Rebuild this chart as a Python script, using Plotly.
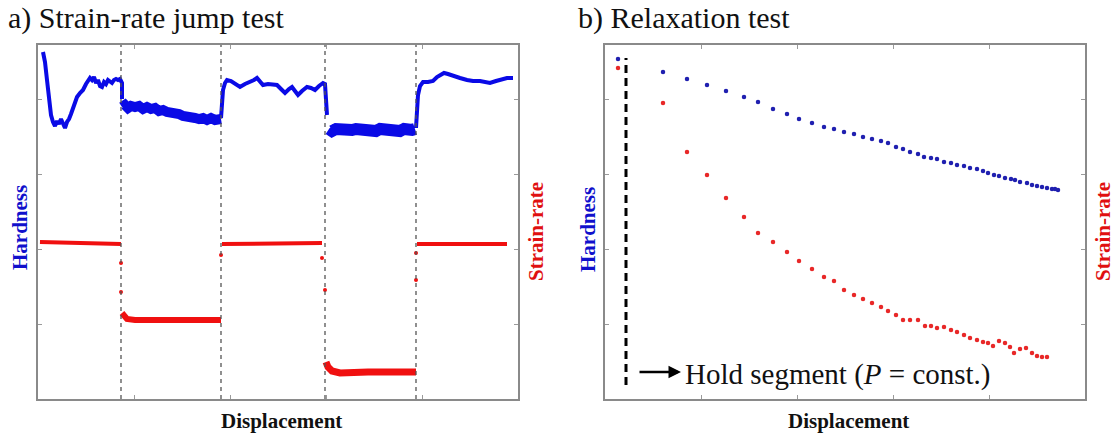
import plotly.graph_objects as go

# ---------------- a) Strain-rate jump test (arbitrary units) ----------------
# positions of the rate jumps along the displacement axis
jump_positions = [83, 183, 287, 378]

# hardness, segment by segment (x: displacement, y: hardness)
hard_seg1_x = [5, 7, 9, 11, 13, 15, 17, 19, 21, 23, 25, 27, 29, 31, 33, 35, 37, 39, 42, 45,
               48, 50, 52, 54, 56, 58, 60, 62, 64, 66, 68, 70, 72, 74, 76, 78, 80, 82, 84, 84]
hard_seg1_y = [347, 337, 319, 299, 284, 277, 273, 278, 275, 280, 275, 271, 277, 280, 285, 291,
               296, 302, 306, 309, 315, 319, 321, 319, 322, 316, 319, 313, 312, 317, 315, 319,
               317, 316, 319, 320, 319, 320, 316, 300]

hard_seg2_x = [84, 87, 90, 93, 97, 101, 105, 109, 113, 117, 121, 125, 129, 133, 137, 141, 145,
               149, 153, 157, 161, 165, 169, 173, 177, 180, 183]
hard_seg2_y = [292, 294, 291, 293, 292, 293, 290, 292, 290, 291, 288, 289, 287, 287, 285, 285,
               283, 283, 281, 281, 280, 281, 279, 281, 279, 281, 280]

hard_seg3_x = [183, 184, 185, 187, 189, 193, 197, 202, 207, 212, 216, 219, 222, 225, 230, 235,
               239, 243, 247, 251, 254, 257, 260, 264, 269, 273, 277, 281, 285, 287, 288, 289]
hard_seg3_y = [281, 299, 309, 316, 319, 318, 315, 312, 315, 317, 319, 321, 317, 314, 315, 314,
               314, 310, 306, 310, 312, 308, 304, 308, 312, 311, 309, 313, 316, 315, 299, 284]

hard_seg4_x = [291, 294, 298, 302, 306, 310, 314, 318, 322, 326, 330, 334, 338, 342, 346, 350,
               354, 358, 362, 366, 370, 374, 377]
hard_seg4_y = [270, 268, 270, 269, 270, 268, 269, 270, 269, 268, 270, 269, 268, 270, 269, 268,
               270, 269, 268, 270, 268, 269, 270]

hard_seg5_x = [378, 379, 380, 382, 385, 390, 395, 399, 403, 406, 410, 415, 422, 429, 435, 442,
               447, 452, 458, 464, 469, 475]
hard_seg5_y = [271, 289, 304, 313, 317, 317, 318, 322, 325, 326, 325, 323, 321, 319, 318, 318,
               317, 316, 318, 320, 321, 321]

# strain-rate plateaus
rate_seg1_x = [2, 40, 83]
rate_seg1_y = [157, 156, 155]
rate_seg2_x = [84, 86, 89, 97, 120, 150, 183]
rate_seg2_y = [86, 83, 80, 79, 79, 79, 79]
rate_seg3_x = [184, 230, 284]
rate_seg3_y = [155, 155, 156]
rate_seg4_x = [288, 290, 294, 302, 330, 360, 378]
rate_seg4_y = [37, 32, 28, 26, 27, 26, 27]
rate_seg5_x = [379, 420, 469]
rate_seg5_y = [155, 155, 155]
# isolated transient points at each jump
rate_trans_x = [83, 83, 183, 284, 287, 378, 378]
rate_trans_y = [136, 107, 144, 141, 109, 146, 119]

# ---------------- b) Relaxation test (arbitrary units) ----------------
hold_start = 21
hold_line_y = [14, 341]

relax_x = [13, 58, 82, 102, 121, 139, 153, 168, 182, 194, 207, 219, 229, 239, 249, 258, 267,
           276, 283, 291, 298, 305, 313, 319, 326, 332, 339, 346, 352, 359, 365, 372, 378,
           383, 389, 394, 400, 406, 410, 415, 422, 427, 432, 437, 442, 447, 450, 453]
relax_hard = [340, 327, 320, 314, 308, 302, 297, 290, 285, 280, 276, 272, 270, 267, 265, 262,
              260, 258, 256, 252, 250, 247, 245, 242, 241, 240, 237, 236, 234, 233, 231, 230,
              228, 226, 224, 223, 221, 220, 219, 217, 216, 214, 213, 212, 211, 210, 210, 209]

relax_rate_x = [13, 58, 82, 102, 121, 139, 153, 168, 182, 194, 207, 219, 229, 239, 249, 258,
                267, 276, 283, 291, 298, 305, 313, 320, 326, 332, 339, 346, 352, 359, 365, 372,
                378, 383, 388, 394, 400, 405, 409, 415, 421, 427, 432, 437, 442]
relax_rate = [331, 296, 247, 224, 201, 182, 166, 157, 147, 138, 130, 122, 118, 109, 104, 100,
              96, 92, 88, 84, 79, 79, 79, 73, 73, 71, 72, 69, 67, 64, 61, 59, 57, 56, 53, 58,
              56, 52, 46, 50, 51, 46, 43, 42, 42]

# ---------------- styling ----------------
BLUE = "#0a0ae6"
BLUE_DOT = "#2020b0"
RED = "#f01010"
RED_DOT = "#e82828"
SERIF = "'Liberation Serif', 'Times New Roman', Times, 'DejaVu Serif', serif"
W, H = 1117, 437

fig = go.Figure()

def line(x, y, color, width, xa, ya):
    fig.add_trace(go.Scatter(x=x, y=y, mode="lines", xaxis=xa, yaxis=ya,
                             line=dict(color=color, width=width), hoverinfo="skip"))

# panel a: hardness
line(hard_seg1_x, hard_seg1_y, BLUE, 4, "x", "y")
line(hard_seg2_x, hard_seg2_y, BLUE, 10, "x", "y")
line(hard_seg3_x, hard_seg3_y, BLUE, 4, "x", "y")
line(hard_seg4_x, hard_seg4_y, BLUE, 12, "x", "y")
line(hard_seg5_x, hard_seg5_y, BLUE, 4, "x", "y")

# panel a: strain-rate
line(rate_seg1_x, rate_seg1_y, RED, 4, "x", "y2")
line(rate_seg2_x, rate_seg2_y, RED, 6, "x", "y2")
line(rate_seg3_x, rate_seg3_y, RED, 4, "x", "y2")
line(rate_seg4_x, rate_seg4_y, RED, 7, "x", "y2")
line(rate_seg5_x, rate_seg5_y, RED, 4, "x", "y2")
fig.add_trace(go.Scatter(x=rate_trans_x, y=rate_trans_y, mode="markers", xaxis="x", yaxis="y2",
                         marker=dict(color=RED, size=4), hoverinfo="skip"))

# panel b: hardness and strain-rate during the hold
fig.add_trace(go.Scatter(x=relax_x, y=relax_hard, mode="markers", xaxis="x2", yaxis="y3",
                         marker=dict(color=BLUE_DOT, size=4.5), hoverinfo="skip"))
fig.add_trace(go.Scatter(x=relax_rate_x, y=relax_rate, mode="markers", xaxis="x2", yaxis="y4",
                         marker=dict(color=RED_DOT, size=4.5), hoverinfo="skip"))

# start of the hold segment
fig.add_trace(go.Scatter(x=[hold_start, hold_start], y=hold_line_y, mode="lines",
                         xaxis="x2", yaxis="y3",
                         line=dict(color="black", width=3, dash="8px,5px"), hoverinfo="skip"))

# dashed markers at each rate jump
shapes = [dict(type="line", xref="x", yref="y domain", x0=p, x1=p, y0=0, y1=1,
               line=dict(color="#555555", width=1.3, dash="4px,4px"))
          for p in jump_positions]

axis_common = dict(showgrid=False, zeroline=False, showticklabels=False, ticks="inside",
                   ticklen=4, tickcolor="#9a9a9a", tickwidth=1, showline=True,
                   linecolor="#8a8a8a", linewidth=1.5, mirror="ticks")
ydom = [38 / H, 392 / H]
xticks = [96, 192, 288, 384]
yticks = [75, 150, 225, 300]

def ann_text(text, px, py, color, size, bold=False, angle=0, xanchor="center"):
    t = f"<b>{text}</b>" if bold else text
    return dict(text=t, x=px / W, y=1 - py / H, xref="paper", yref="paper",
                xanchor=xanchor, yanchor="middle", showarrow=False, textangle=angle,
                font=dict(family=SERIF, size=size, color=color))

annotations = [
    ann_text("a) Strain-rate jump test", 6, 18, "#111111", 30, xanchor="left"),
    ann_text("b) Relaxation test", 576, 18, "#111111", 30, xanchor="left"),
    ann_text("Displacement", 281, 421, "#111111", 21, bold=True),
    ann_text("Displacement", 848, 421, "#111111", 21, bold=True),
    ann_text("Hardness", 20, 228, "#1010cc", 21, bold=True, angle=-90),
    ann_text("Strain-rate", 536, 232, "#e01010", 21, bold=True, angle=-90),
    ann_text("Hardness", 588, 230, "#1010cc", 21, bold=True, angle=-90),
    ann_text("Strain-rate", 1103, 232, "#e01010", 21, bold=True, angle=-90),
    # hold-segment arrow and label
    dict(x=76, y=27, ax=33, ay=27, xref="x2", yref="y3", axref="x2", ayref="y3",
         text="", showarrow=True, arrowhead=2, arrowsize=1, arrowwidth=2.5,
         arrowcolor="black"),
    dict(x=78, y=25, xref="x2", yref="y3", xanchor="left", yanchor="middle",
         text="Hold segment (<i>P</i> = const.)", showarrow=False,
         font=dict(family=SERIF, size=29, color="#111111")),
]

fig.update_layout(
    width=W, height=H, margin=dict(l=0, r=0, t=0, b=0),
    paper_bgcolor="white", plot_bgcolor="white", showlegend=False,
    font=dict(family=SERIF),
    xaxis=dict(domain=[38 / W, 518 / W], range=[0, 480], tickvals=xticks, anchor="y",
               **axis_common),
    yaxis=dict(domain=ydom, range=[0, 354], tickvals=yticks, anchor="x", **axis_common),
    yaxis2=dict(range=[0, 354], overlaying="y", side="right", anchor="x", visible=False),
    xaxis2=dict(domain=[605 / W, 1085 / W], range=[0, 480], tickvals=xticks, anchor="y3",
                **axis_common),
    yaxis3=dict(domain=ydom, range=[0, 354], tickvals=yticks, anchor="x2", **axis_common),
    yaxis4=dict(range=[0, 354], overlaying="y3", side="right", anchor="x2", visible=False),
    shapes=shapes,
    annotations=annotations,
)

fig.write_html("out.html")
